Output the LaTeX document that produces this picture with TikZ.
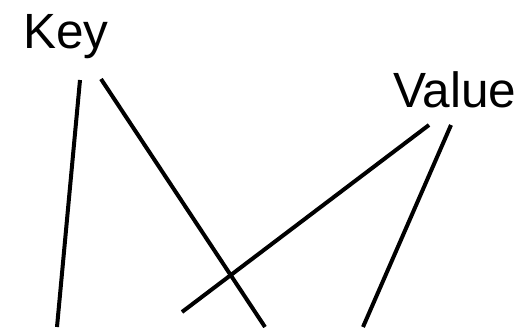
\documentclass[tikz,border=0pt]{standalone}
\usepackage{fontspec}
\setmainfont{Liberation Sans}
\usepackage{xcolor}
\definecolor{lineBlack}{RGB}{0,0,0}
\tikzset{
  label text/.style={anchor=base west,inner sep=0pt,font=\fontsize{49.5}{58}\selectfont},
  link/.style={draw=lineBlack,line width=4pt}
}

\begin{document}
\begin{tikzpicture}[x=1pt,y=-1pt]
\useasboundingbox (0,0) rectangle (522,327);
\node[label text] (key) at (23,48) {Key};
\node[label text] (value) at (393,107) {Value};
% ends of the links
\coordinate (keyA) at (80,80);
\coordinate (keyB) at (101,79);
\coordinate (valA) at (429,125);
\coordinate (valB) at (451,125);
\coordinate (endA) at (57,327);
\coordinate (endB) at (265,327);
\coordinate (endC) at (182,312);
\coordinate (endD) at (363,327);
\draw[link] (keyA) -- (endA);
\draw[link] (keyB) -- (endB);
\draw[link] (valA) -- (endC);
\draw[link] (valB) -- (endD);
\end{tikzpicture}
\end{document}
